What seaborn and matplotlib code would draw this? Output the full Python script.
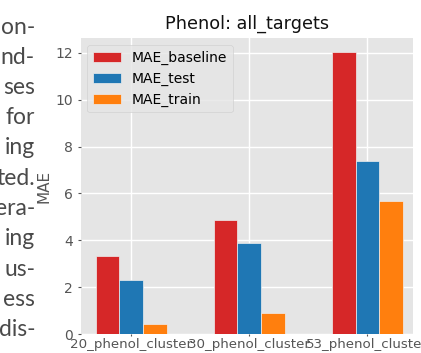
import matplotlib
matplotlib.use('Agg')
import matplotlib.pyplot as plt
import seaborn as sns
import pandas as pd

categories = ['20_phenol_cluster', '30_phenol_cluster', '53_phenol_cluster']
series_names = ['MAE_baseline', 'MAE_test', 'MAE_train']
mae_baseline = [3.32, 4.85, 12.03]
mae_test = [2.32, 3.89, 7.37]
mae_train = [0.41, 0.89, 5.67]
colors = ['#d62728', '#1f77b4', '#ff7f0e']
side_text = ['on-', 'nd-', 'ses', 'for', 'ing', 'ted.', 'era-', 'ing', 'us-', 'ess', 'dis-']

plt.style.use('ggplot')

rows = []
for name, vals in zip(series_names, [mae_baseline, mae_test, mae_train]):
    for cat, v in zip(categories, vals):
        rows.append({'cluster': cat, 'MAE': v, 'series': name})
df = pd.DataFrame(rows)

W, H = 421, 353
fig = plt.figure(figsize=(W / 100, H / 100), dpi=100)
ax = fig.add_axes([80.5 / W, 19 / H, 332.5 / W, 296 / H])

sns.barplot(data=df, x='cluster', y='MAE', hue='series', hue_order=series_names,
            order=categories, palette=colors, width=0.6, gap=0, saturation=1,
            errorbar=None, edgecolor='#eeeeee', linewidth=0.5, ax=ax)

ax.set_xlim(-0.43, 2.387)
ax.set_ylim(0, 12.63)
ax.set_yticks([0, 2, 4, 6, 8, 10, 12])
ax.xaxis.grid(True, color='white', linewidth=1)
ax.yaxis.grid(True, color='white', linewidth=1)
ax.set_axisbelow(True)
ax.set_xlabel('')
ax.set_ylabel('MAE', fontsize=11, color='#555555', labelpad=3)
ax.tick_params(axis='x', labelsize=9.6, colors='#555555', direction='out', length=1.5, pad=1.2)
ax.tick_params(axis='y', labelsize=10, colors='#555555', direction='out', length=2.5, pad=2.8)
ax.set_title('Phenol: all_targets', fontsize=12.7, color='#111111', pad=6.5)
for s in ax.spines.values():
    s.set_visible(False)

leg = ax.legend(loc='upper left', fontsize=10, title=None)

for i, t in enumerate(side_text):
    y = 33.5 + 30.25 * i
    fig.text(35 / W, 1 - y / H, t, ha='right', va='baseline',
             family=['Lato', 'DejaVu Sans'], fontweight='normal',
             fontsize=16.5, color='#4a4a4a')

fig.savefig('out.png', dpi=100)
